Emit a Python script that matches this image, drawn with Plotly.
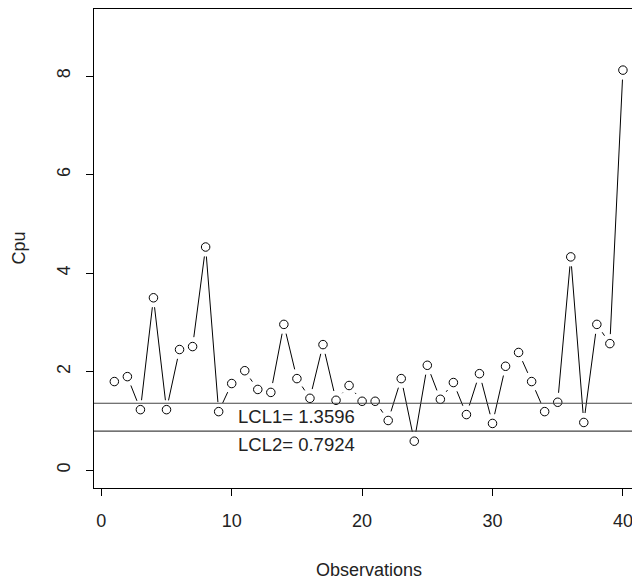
import plotly.graph_objects as go
import math

obs = list(range(1, 41))
cpu = [1.80, 1.90, 1.23, 3.50, 1.23, 2.45, 2.51, 4.53, 1.19, 1.76,
       2.02, 1.64, 1.58, 2.96, 1.86, 1.46, 2.55, 1.42, 1.72, 1.40,
       1.40, 1.01, 1.86, 0.59, 2.13, 1.44, 1.78, 1.13, 1.96, 0.95,
       2.11, 2.39, 1.80, 1.19, 1.38, 4.33, 0.97, 2.96, 2.57, 8.12]
lcl_values = [1.3596, 0.7924]
lcl_labels = ["LCL1= 1.3596", "LCL2= 0.7924"]
x_ticks = [0, 10, 20, 30, 40]
y_ticks = [0, 2, 4, 6, 8]

# page body has an 8px margin; figure sized to fit the window
W, H = 632, 574
ML, MR, MT, MB = 86, 0, 1, 93.5
xr = [-0.56, 41.31]
yr = [-0.36, 9.36]
pw = W - ML - MR
ph = H - MT - MB
sx = pw / (xr[1] - xr[0])
sy = ph / (yr[1] - yr[0])

# type="b" style: line segments with gaps around points
gap = 9.5
lx, ly = [], []
for i in range(len(obs) - 1):
    x0, y0 = obs[i] * sx, cpu[i] * sy
    x1, y1 = obs[i + 1] * sx, cpu[i + 1] * sy
    d = math.hypot(x1 - x0, y1 - y0)
    if d > 2 * gap:
        ux, uy = (x1 - x0) / d, (y1 - y0) / d
        lx += [(x0 + gap * ux) / sx, (x1 - gap * ux) / sx, None]
        ly += [(y0 + gap * uy) / sy, (y1 - gap * uy) / sy, None]

FS = 18
fig = go.Figure()
fig.add_trace(go.Scatter(x=lx, y=ly, mode="lines",
                         line=dict(color="black", width=1), hoverinfo="skip"))
fig.add_trace(go.Scatter(x=obs, y=cpu, mode="markers",
                         marker=dict(symbol="circle-open", size=8.5, color="black",
                                     line=dict(width=1, color="black"))))

for v, lab in zip(lcl_values, lcl_labels):
    fig.add_shape(type="line", xref="paper", x0=0, x1=1, yref="y", y0=v, y1=v,
                  line=dict(color="#444444", width=1.2))
    fig.add_annotation(x=15, y=v, text=lab, showarrow=False, yanchor="top",
                       yshift=-1, font=dict(size=18.5, color="#222222"))

fig.add_annotation(xref="x", x=20.5, yref="paper", y=0, yanchor="middle",
                   yshift=-82, text="Observations", showarrow=False,
                   font=dict(size=FS, color="#222222"))
fig.add_annotation(xref="paper", x=0, xanchor="center", xshift=-76,
                   yref="y", y=4.5, text="Cpu", showarrow=False, textangle=-90,
                   font=dict(size=FS, color="#222222"))

fig.update_layout(
    width=W, height=H,
    margin=dict(l=ML, r=MR, t=MT, b=MB),
    plot_bgcolor="white", paper_bgcolor="white",
    showlegend=False,
    font=dict(family="Liberation Sans, Arial, sans-serif", size=FS, color="#222222"),
)
fig.update_xaxes(range=xr, tickvals=x_ticks, ticks="outside", ticklen=7,
                 tickcolor="black", showgrid=False, zeroline=False,
                 showline=True, linecolor="black", linewidth=1, mirror=True,
                 ticklabelstandoff=9)
fig.update_yaxes(range=yr, tickvals=y_ticks, ticks="outside", ticklen=7,
                 tickcolor="black", showgrid=False, zeroline=False,
                 showline=True, linecolor="black", linewidth=1, mirror=True,
                 tickangle=-90, ticklabelstandoff=9)

fig.write_html("out.html")
